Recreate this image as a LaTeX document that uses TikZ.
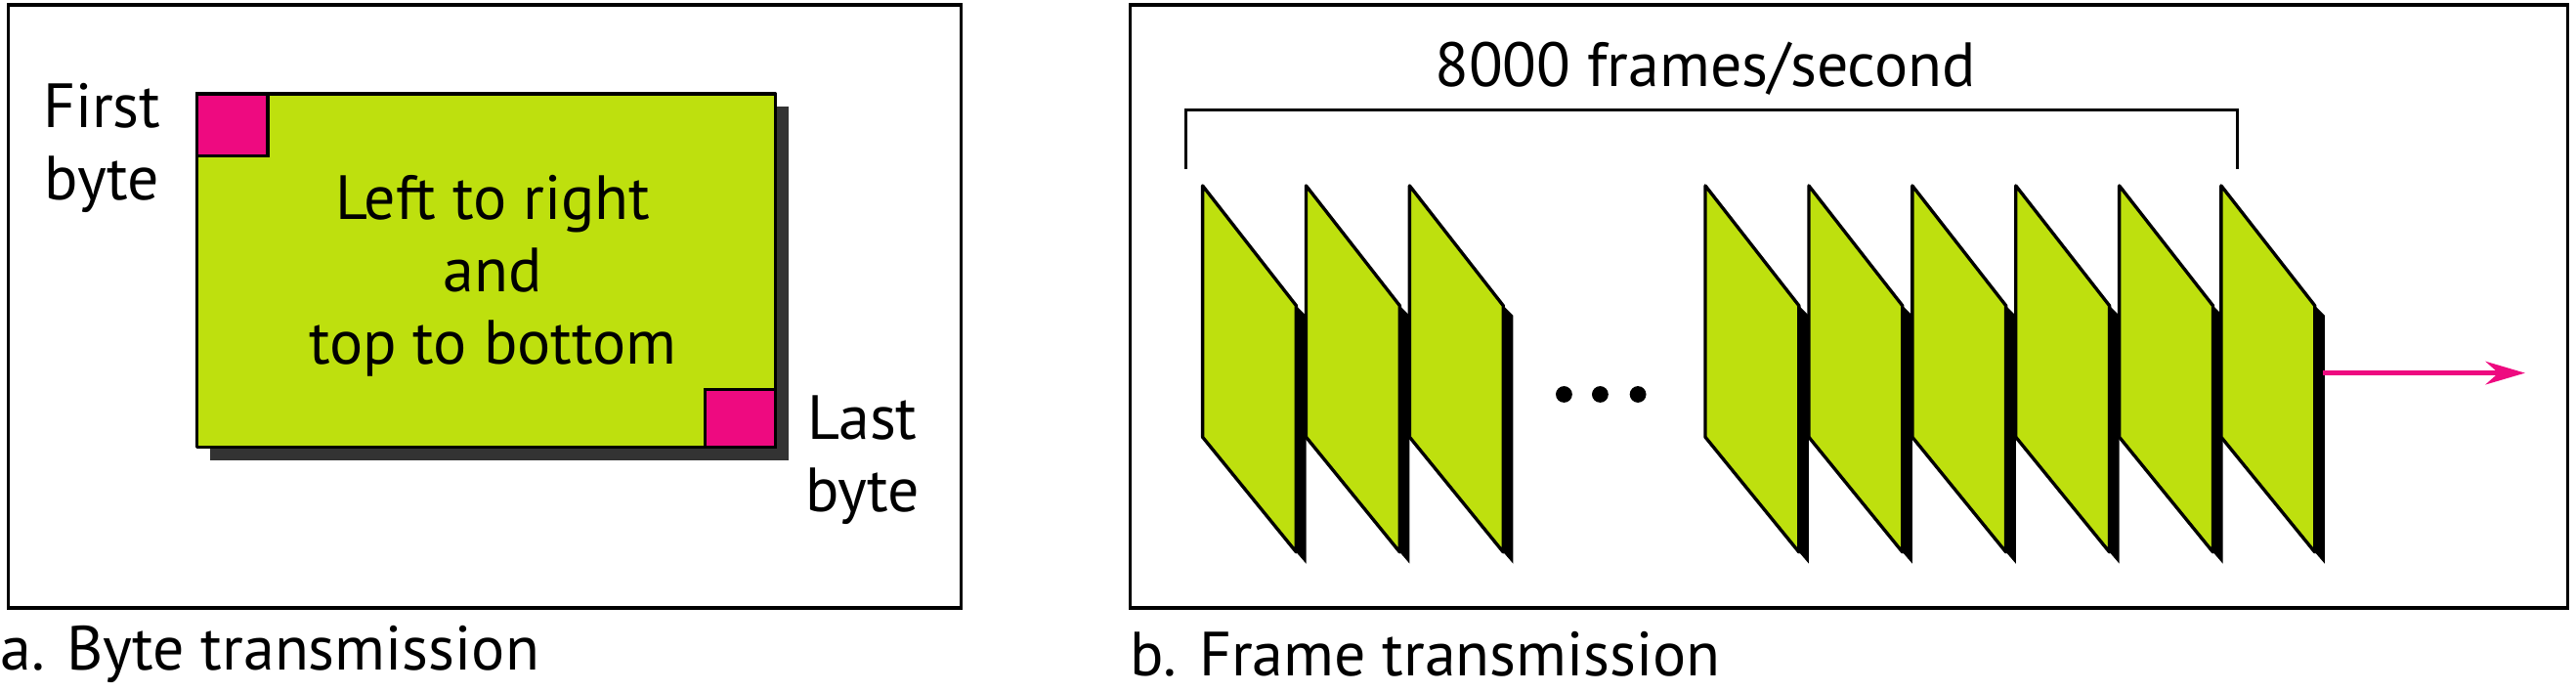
\documentclass[tikz,border=0pt]{standalone}
\usepackage{fontspec}
\setmainfont{PT Sans}
\usetikzlibrary{arrows.meta}
\definecolor{lime}{HTML}{BEE00E}
\definecolor{mag}{HTML}{EE0A80}
\definecolor{shadowgray}{HTML}{333333}
\begin{document}
\begin{tikzpicture}[x=1pt,y=-1pt,
  lbl/.style={font=\fontsize{38}{44}\selectfont, inner sep=0pt, align=center},
  frm/.style={draw=black, line width=2.2pt},
  face/.style={fill=lime, draw=black, line width=2pt, line join=round}]
\useasboundingbox (0,0) rectangle (1568,421);
% panel frames
\draw[frm] (5,3) rectangle (585,370);
\draw[frm] (688,3) rectangle (1563,370);
% left panel
\fill[shadowgray] (128,65) rectangle (480,280);
\draw[face] (120,57) rectangle (472,272);
\draw[fill=mag, draw=black, line width=2pt] (120,57) rectangle (163,95);
\draw[fill=mag, draw=black, line width=2pt] (429,237) rectangle (472,272);
\node[lbl] (txt) at (300,168) {Left to right\\and\\top to bottom};
\node[lbl] (first) at (62,90) {First\\byte};
\node[lbl] (last) at (525,280) {Last\\byte};
% right panel
\node[lbl] (rate) at (1038,42) {8000 frames/second};
\draw[line width=1.6pt] (722,103) -- (722,67) -- (1362,67) -- (1362,103);
\foreach \x in {732,795,858,1038,1101,1164,1227,1290,1352}{
  \fill[black] (\x+57,186) -- (\x+63,192) -- (\x+63,343) -- (\x+57,336) -- cycle;
  \draw[face] (\x,113) -- (\x+57,186) -- (\x+57,336) -- (\x,266) -- cycle;
}
\foreach \x in {952,974,997}{\fill (\x,240) circle (5);}
\coordinate (as) at (1414,227);
\coordinate (ae) at (1537,227);
\draw[mag, line width=3pt, -{Stealth[length=24pt,width=14pt]}] (as) -- (ae);
% captions
\node[lbl, anchor=west] (capa) at (0,398) {a. Byte transmission};
\node[lbl, anchor=west] (capb) at (688,398) {b. Frame transmission};
\end{tikzpicture}
\end{document}
